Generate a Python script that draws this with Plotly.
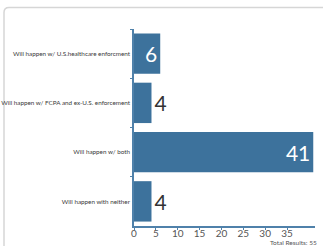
import plotly.graph_objects as go

categories = [
    "Will happen w/ U.S.healthcare enforcment",
    "Will happen w/ FCPA and ex-U.S. enforcement",
    "Will happen w/ both",
    "Will happen with neither",
]
values = [6, 4, 41, 4]
x_ticks = [0, 5, 10, 15, 20, 25, 30, 35]
total_label = "Total Results: 55"

W, H = 323, 246
L, R, T, B = 134, 8, 29, 20
pw, ph = W - L - R, H - T - B

def px_x(p):
    return (p - L) / pw

def px_y(p):
    return (H - B - p) / ph

bar_color = "#3d729c"
text_pos = ["inside" if v >= 5 else "outside" for v in values]
text_col = ["white" if v >= 5 else "#333333" for v in values]

fig = go.Figure(go.Bar(
    x=values, y=categories, orientation="h",
    marker=dict(color=bar_color, line=dict(width=0)),
    text=[str(v) for v in values],
    textposition=text_pos,
    insidetextanchor="end",
    constraintext="none",
    cliponaxis=False,
    textfont=dict(size=21, color=text_col, family="Lato"),
    hoverinfo="skip",
))

# card outline with rounded corner
x0, y0 = px_x(4), px_y(7.5)
x1, y1 = px_x(340), px_y(260)
rx, ry = 5 / pw, 5 / ph
path = (f"M {x0},{y1} L {x0},{y0 - ry} Q {x0},{y0} {x0 + rx},{y0} L {x1},{y0}")

fig.update_layout(
    width=W, height=H,
    margin=dict(l=L, r=R, t=T, b=B),
    paper_bgcolor="white", plot_bgcolor="white",
    bargap=0.18,
    showlegend=False,
    font=dict(family="Lato", color="#444444"),
    xaxis=dict(
        range=[0, 41.4], tickvals=x_ticks, showgrid=False, zeroline=False,
        showline=True, linecolor="#4f81aa", linewidth=1.5,
        ticks="outside", ticklen=2, tickcolor="#4f81aa",
        tickfont=dict(size=10, color="#555555", family="Lato"),
        ticklabelstandoff=-5,
        fixedrange=True, automargin=False,
    ),
    yaxis=dict(
        categoryorder="array", categoryarray=categories, autorange="reversed",
        showgrid=False, zeroline=False,
        showline=True, linecolor="#4f81aa", linewidth=1.5,
        ticks="outside", ticklen=2, tickcolor="#4f81aa", tickson="boundaries",
        tickfont=dict(size=6.3, color="#3a3a3a", family="Lato"),
        ticklabelstandoff=1,
        fixedrange=True, automargin=False,
    ),
    shapes=[dict(type="path", xref="paper", yref="paper", path=path,
                 line=dict(color="#d6d6d6", width=1.5), layer="below")],
    annotations=[dict(text=total_label, xref="paper", yref="paper",
                      x=px_x(319), y=px_y(242), xanchor="right", yanchor="middle",
                      showarrow=False,
                      font=dict(size=6.5, color="#555555", family="Lato"))],
)

fig.write_html(
    "out.html",
    config={"displayModeBar": False},
    post_script="document.body.style.margin='0';document.body.style.overflow='hidden';",
)
